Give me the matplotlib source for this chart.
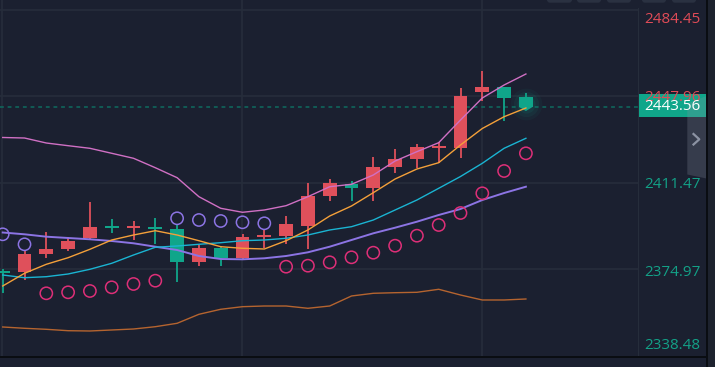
import numpy as np
import matplotlib
matplotlib.use("Agg")
import matplotlib.pyplot as plt
from matplotlib.patches import Rectangle, FancyBboxPatch, Polygon

# OHLC (red = up, green = down)
opens = [2373.74, 2373.61, 2381.34, 2383.46, 2387.98, 2392.63, 2392.33, 2392.88, 2391.78, 2378.09,
         2383.75, 2379.78, 2388.44, 2389.08, 2393.30, 2405.98, 2410.80, 2409.36, 2418.24, 2421.36,
         2426.26, 2426.26, 2449.93, 2451.79, 2447.56]
highs = [2375.01, 2382.61, 2390.77, 2388.40, 2403.45, 2396.01, 2395.42, 2396.43, 2393.60, 2385.15,
         2384.85, 2389.67, 2391.70, 2397.40, 2411.47, 2413.04, 2412.19, 2422.46, 2425.59, 2427.70,
         2428.80, 2451.37, 2458.68, 2451.79, 2449.25]
lows = [2364.99, 2370.36, 2379.78, 2382.61, 2387.26, 2390.09, 2387.05, 2385.44, 2369.64, 2376.40,
        2376.40, 2379.10, 2383.88, 2385.44, 2383.33, 2403.74, 2403.74, 2403.74, 2415.45, 2417.56,
        2419.67, 2421.91, 2445.79, 2437.55, 2443.56]
closes = [2373.32, 2381.22, 2383.33, 2386.97, 2392.63, 2392.33, 2392.54, 2391.78, 2378.09, 2383.75,
          2379.53, 2388.53, 2388.74, 2393.89, 2405.98, 2411.22, 2409.36, 2417.98, 2421.36, 2426.43,
          2426.56, 2448.24, 2451.79, 2447.39, 2443.56]

# bollinger bands
boll_up = [2430.58, 2430.36, 2428.25, 2427.11, 2426.01, 2423.90, 2421.79, 2417.81, 2413.59, 2405.56,
           2400.66, 2398.97, 2399.94, 2401.76, 2405.56, 2409.78, 2410.80, 2414.73, 2420.64, 2424.58,
           2428.38, 2437.97, 2447.27, 2452.76, 2457.41]
boll_mid = [2390.43, 2389.67, 2388.66, 2388.11, 2387.56, 2386.84, 2385.87, 2384.43, 2383.03, 2380.50,
            2379.23, 2379.10, 2379.53, 2380.50, 2382.06, 2384.43, 2387.26, 2390.09, 2392.46, 2394.99,
            2397.83, 2400.36, 2404.16, 2407.12, 2409.78]
boll_dn = [2350.50, 2349.95, 2349.52, 2348.93, 2348.81, 2349.23, 2349.65, 2350.62, 2352.06, 2355.86,
           2357.98, 2359.08, 2359.37, 2359.37, 2358.40, 2359.37, 2363.60, 2364.74, 2364.99, 2365.16,
           2366.43, 2364.02, 2361.91, 2361.91, 2362.33]

# moving averages
ma5 = [2367.82, 2373.19, 2376.99, 2379.78, 2383.33, 2387.26, 2389.37, 2391.19, 2389.37, 2386.96,
       2384.43, 2383.75, 2383.46, 2386.96, 2391.49, 2397.40, 2401.63, 2407.25, 2413.04, 2417.26,
       2419.93, 2427.41, 2434.38, 2439.36, 2443.04]
ma10 = [2372.47, 2371.33, 2371.75, 2372.89, 2374.88, 2377.41, 2380.92, 2384.18, 2384.73, 2385.44,
        2386.12, 2386.96, 2387.26, 2387.98, 2389.37, 2391.49, 2392.88, 2395.71, 2399.94, 2404.16,
        2409.11, 2414.09, 2419.67, 2426.01, 2430.24]

# parabolic SAR dots
sar_above_idx = [0, 1, 8, 9, 10, 11, 12]
sar_above = [2389.67, 2385.44, 2396.43, 2395.71, 2395.29, 2394.74, 2394.32]
sar_below_idx = [2, 3, 4, 5, 6, 7, 13, 14, 15, 16, 17, 18, 19, 20, 21, 22, 23, 24]
sar_below = [2364.74, 2365.16, 2365.71, 2367.27, 2368.67, 2370.06, 2375.98, 2376.40, 2377.84,
             2379.95, 2381.89, 2384.85, 2389.08, 2393.60, 2398.67, 2407.00, 2416.42, 2423.90]

axis_values = [2484.45, 2447.96, 2411.47, 2374.97, 2338.48]
axis_labels = ["2484.45", "2447.96", "2411.47", "2374.97", "2338.48"]
last_price = 2443.56

BG = "#1b2030"
GRID = "#262d3b"
UP = "#df505b"
DOWN = "#10a58a"
W, H = 715, 367


def px(x, y):
    # screen pixel -> inches for dpi_scale_trans
    return x / 100.0, (H - y) / 100.0


fig = plt.figure(figsize=(W / 100, H / 100), dpi=100, facecolor=BG)
ax = fig.add_axes([0, 9.7 / H, 638.5 / W, 357.3 / H])
ax.set_facecolor(BG)
ax.set_xlim(-0.124, 29.165)
ax.set_ylim(2337.69, 2488.68)
for s in ax.spines.values():
    s.set_visible(False)
ax.set_xticks([])
ax.set_yticks([])

for v in axis_values[:4]:
    ax.axhline(v, color=GRID, lw=1.2, zorder=0)
for v in [-0.05, 10.97, 21.97]:
    ax.axvline(v, color=GRID, lw=1.2, zorder=0)

ax.axhline(last_price, color="#0e6b5f", lw=1.1, ls=(0, (2.5, 2.5)), zorder=1)

x = np.arange(len(opens))
o = np.array(opens)
c = np.array(closes)
cols = [UP if cc >= oo else DOWN for oo, cc in zip(o, c)]
ax.vlines(x, lows, highs, colors=cols, lw=1.3, zorder=2)
heights = np.maximum(np.abs(c - o), 0.8)
ax.bar(x, heights, bottom=np.minimum(o, c), width=0.64, color=cols, lw=0, zorder=3)

# glow on the live candle
for s_, a_ in [(520, 0.06), (330, 0.08), (170, 0.1)]:
    ax.scatter([x[-1]], [last_price + 1.2], s=s_, color=DOWN, alpha=a_, lw=0, zorder=3)
ax.add_patch(Polygon([(x[-1] - 0.32, c[-1]), (x[-1] + 0.32, c[-1]), (x[-1], c[-1] - 1.8)],
                     closed=True, color=DOWN, lw=0, zorder=3))

ax.plot(x, boll_up, color="#d070c4", lw=1.0, zorder=4)
ax.plot(x, boll_dn, color="#b5642f", lw=1.0, zorder=4)
ax.plot(x, boll_mid, color="#8c74e4", lw=1.4, zorder=4)
ax.plot(x, ma10, color="#1ab4d2", lw=1.0, zorder=4)
ax.plot(x, ma5, color="#f4a03a", lw=1.0, zorder=4)

ax.scatter(sar_above_idx, sar_above, s=78, facecolors="none", edgecolors="#8c74e4",
           linewidths=1.1, zorder=5)
ax.scatter(sar_below_idx, sar_below, s=78, facecolors="none", edgecolors="#de2f78",
           linewidths=1.1, zorder=5)

T = fig.dpi_scale_trans

# right price axis
fig.add_artist(Rectangle(px(638, 357.3), 1.2 / 100, 349 / 100, transform=T, color="#262d3b", lw=0))
label_y = [19.3, 97.7, 184.5, 272.5, 345.5]
for v, lab, ly in zip(axis_values, axis_labels, label_y):
    col = "#e04b57" if v > last_price else "#13a187"
    fig.text(*px(644, ly), lab, transform=T, color=col, fontsize=11, family="Open Sans",
             ha="left", va="center")

# last price tag
fig.add_artist(Rectangle(px(639.3, 117.3), 67.7 / 100, 23 / 100, transform=T, color="#10a68a", lw=0))
fig.text(*px(644, 106), f"{last_price:.2f}", transform=T, color="white", fontsize=11,
         family="Open Sans", ha="left", va="center")

# side drawer button
pts = [px(687.3, 103.5), px(706.5, 96), px(706.5, 178.5), px(687.3, 174.5)]
fig.add_artist(Polygon(pts, closed=True, transform=T, color="#8a90a0", alpha=0.25, lw=0))
chev = [px(693.5, 134), px(699.3, 139.3), px(693.5, 144.5)]
fig.add_artist(plt.Line2D([p[0] for p in chev], [p[1] for p in chev], transform=T,
                          color="#8c93a3", lw=1.6))

# toolbar buttons peeking at the top
for x0, x1 in [(547, 572), (577, 601), (607, 631), (642, 666), (672, 696)]:
    fig.add_artist(FancyBboxPatch(px(x0, 2.7), (x1 - x0) / 100, 0.1, transform=T,
                                  boxstyle="round,pad=0,rounding_size=0.03",
                                  color="#2a3141", lw=0))

# frame lines
fig.add_artist(Rectangle(px(0, 358.2), 707 / 100, 1.8 / 100, transform=T, color="#0a0d12", lw=0))
fig.add_artist(Rectangle(px(706, 367), 2 / 100, 3.67, transform=T, color="#0a0d12", lw=0))
fig.add_artist(Rectangle(px(708, 367), 7 / 100, 3.67, transform=T, color="#1d222e", lw=0))

fig.savefig("out.png", dpi=100, facecolor=BG)
